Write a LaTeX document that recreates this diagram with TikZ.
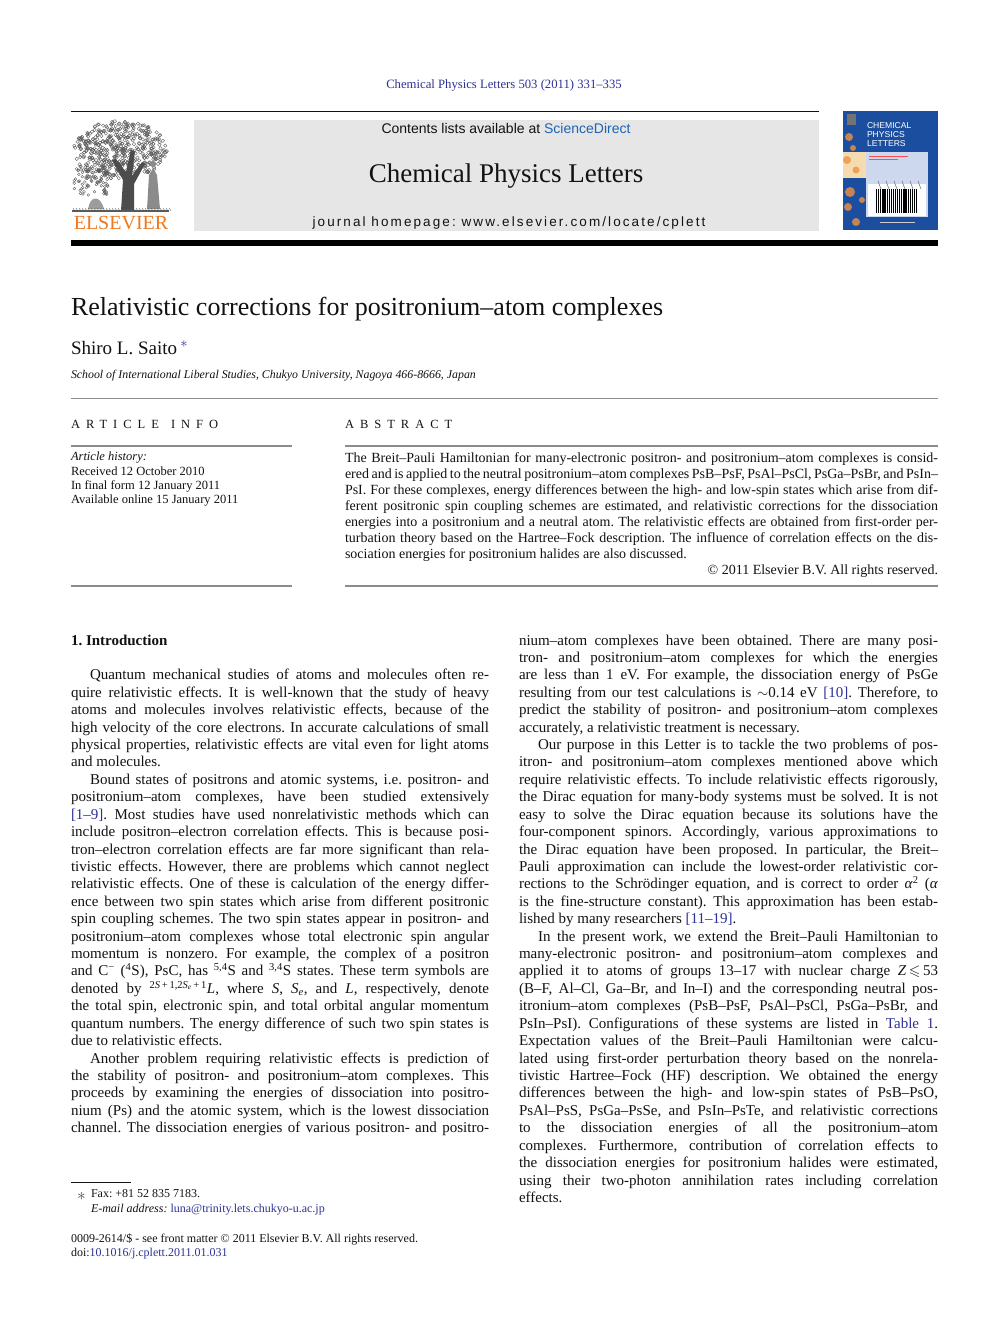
\documentclass[tikz,border=0pt]{standalone}
\usepackage{fontspec}
\usepackage{amssymb}
\setmainfont{Liberation Serif}
\newfontfamily\sansf{Liberation Sans}
\newfontfamily\hpfont[LetterSpace=15.5]{Liberation Sans}
\newfontfamily\capsp[LetterSpace=48]{Liberation Serif}
\definecolor{linkblue}{RGB}{45,50,150}
\definecolor{sdblue}{RGB}{30,100,180}
\definecolor{elsorange}{RGB}{240,120,30}
\definecolor{boxgray}{RGB}{230,230,230}
\definecolor{rulegray}{RGB}{140,140,140}
\definecolor{coverblue}{RGB}{28,78,160}
\definecolor{coverbeige}{RGB}{245,220,175}
\definecolor{coverpanel}{RGB}{205,215,238}
\definecolor{treegray}{RGB}{90,90,90}
\definecolor{inkblack}{RGB}{18,18,18}
\tikzset{
  txt/.style={inner sep=0pt, outer sep=0pt, anchor=base west, text=inkblack},
  body/.style={txt, font=\fontsize{15}{17}\selectfont},
  abs/.style={txt, font=\fontsize{14}{16}\selectfont},
  info/.style={txt, font=\fontsize{12.5}{14}\selectfont},
  small/.style={txt, font=\fontsize{12}{14}\selectfont},
  rule/.style={draw=rulegray, line width=1pt},
}
% justified body line: name, x, row, width, text
\newcommand\JL[5]{\node[body] (#1) at (#2,{645+17.42*#3}) {\makebox[#4pt][s]{#5}};}
% last line of a paragraph
\newcommand\PL[4]{\node[body] (#1) at (#2,{645+17.42*#3}) {#4};}
% abstract line
\newcommand\AL[3]{\node[abs] (#1) at (345,{462+16*#2}) {\makebox[593pt][s]{#3}};}
\newcommand\lk[1]{\textcolor{linkblue}{#1}}
\frenchspacing
\begin{document}
\begin{tikzpicture}[x=1pt,y=-1pt]
\useasboundingbox (0,0) rectangle (992,1323);
\fill[white] (0,0) rectangle (992,1323);

% ---------- header ----------
\node[txt, anchor=base, text=linkblue, font=\fontsize{12.7}{15}\selectfont] (jref) at (504,88) {Chemical Physics Letters 503 (2011) 331–335};
\draw[draw=inkblack, line width=0.9pt] (71,111) -- (819,111);
\fill[boxgray] (194,120) rectangle (819,231);
\node[txt, anchor=base, font=\sansf\fontsize{14}{16}\selectfont] (contents) at (506,133) {Contents lists available at \textcolor{sdblue}{ScienceDirect}};
\node[txt, anchor=base, font=\fontsize{27}{30}\selectfont] (jname) at (506,182) {Chemical Physics Letters};
\node[txt, anchor=base, font=\hpfont\fontsize{13.5}{15}\selectfont] (homepage) at (509,226) {journal homepage: www.elsevier.com/locate/cplett};

% ---------- Elsevier logo ----------
\begin{scope}
  \pgfmathsetseed{11}
  \foreach \i in {1,...,520}{
    \pgfmathsetmacro\ang{rnd*360}
    \pgfmathsetmacro\rr{sqrt(rnd)}
    \pgfmathsetmacro\cx{120+47*\rr*cos(\ang)}
    \pgfmathsetmacro\cy{150+29*\rr*sin(\ang)}
    \draw[treegray, line width=0.35pt] (\cx,\cy) circle[radius=1.7pt];
  }
  \foreach \i in {1,...,90}{
    \pgfmathsetmacro\cx{74+34*rnd}
    \pgfmathsetmacro\cy{165+30*rnd}
    \draw[treegray, line width=0.35pt] (\cx,\cy) circle[radius=1.4pt];
  }
  \fill[treegray!85!black] (121,211) -- (123,180) -- (112,160) -- (116,159) -- (126,172) -- (131,150) -- (135,151) -- (132,176) -- (142,162) -- (145,164) -- (134,184) -- (134,211) -- cycle;
  \fill[treegray!70] (147,209) -- (149,175) -- (153,168) -- (157,175) -- (160,209) -- cycle;
  \fill[treegray!70] (153,164) circle[radius=3.2pt];
  \fill[treegray!60] (88,209) .. controls (90,196) and (100,194) .. (104,209) -- cycle;
  \draw[treegray, line width=1.2pt] (72,211) -- (169,211);
  \foreach \k in {0,...,32}{\draw[treegray, line width=0.4pt] ({73+3*\k},208) -- ({75+3*\k},211);}
\end{scope}
\node[txt, anchor=base, text=elsorange, font=\fontsize{20}{22}\selectfont] (elsevier) at (121,229) {ELSEVIER};

% ---------- cover ----------
\fill[coverblue] (843,111) rectangle (938,230);
\fill[coverbeige] (843,152) rectangle (866,178);
\fill[coverpanel] (866,152) rectangle (928,217);
\fill[white!92!coverpanel] (868,184) rectangle (926,216);
\foreach \p/\r in {{849,137}/4, {853,148}/3, {847,160}/4, {856,170}/3.5, {850,192}/5, {848,207}/4, {856,222}/4, {862,200}/3}{
  \fill[elsorange!75!coverbeige, opacity=0.8] (\p) circle[radius=\r pt];
}
\foreach \k in {0,...,19}{\fill[black] ({876+2.1*\k},189) rectangle ++(1.2,24);}
\foreach \k in {0,...,5}{\draw[black!60, line width=0.5pt] ({878+8*\k},181) -- ({881+8*\k},189);}
\fill[black!55] (847,114) rectangle (856,125);
\node[txt, anchor=north west, text=white, align=left, font=\sansf\fontsize{8.6}{9.4}\selectfont] (ctitle) at (867,122) {CHEMICAL\\PHYSICS\\LETTERS};
\draw[red!70, line width=0.7pt] (869,156) -- (908,156);
\draw[red!70, line width=0.7pt] (869,159) -- (898,159);
\draw[white!80!black, line width=0.5pt] (880,222) -- (915,222);

\fill[black] (71,240) rectangle (938,246);

% ---------- title block ----------
\node[txt, font=\fontsize{26}{30}\selectfont] (title) at (71,315) {Relativistic corrections for positronium–atom complexes};
\node[txt, font=\fontsize{19}{22}\selectfont] (author) at (71,354) {Shiro L. Saito\,\textsuperscript{\textcolor{linkblue}{$\ast$}}};
\node[small, font=\itshape\fontsize{11.85}{14}\selectfont] (affil) at (71,378) {School of International Liberal Studies, Chukyo University, Nagoya 466-8666, Japan};
\draw[rule, line width=0.8pt] (71,398) -- (938,398);

\node[txt, font=\capsp\fontsize{12.5}{14}\selectfont] (ainfo) at (71,428) {ARTICLE\hspace{12pt}INFO};
\node[txt, font=\capsp\fontsize{12.5}{14}\selectfont] (abshead) at (345,428) {ABSTRACT};
\draw[rule, line width=1.3pt] (71,446) -- (292,446);
\draw[rule, line width=1.3pt] (345,446) -- (938,446);

\node[info, font=\itshape\fontsize{12.5}{14}\selectfont] (hist) at (71,460) {Article history:};
\node[info] (recv) at (71,475) {Received 12 October 2010};
\node[info] (final) at (71,489) {In final form 12 January 2011};
\node[info] (online) at (71,503) {Available online 15 January 2011};

\AL{a1}{0}{The Breit–Pauli Hamiltonian for many-electronic positron- and positronium–atom complexes is consid-}
\AL{a2}{1}{ered and is applied to the neutral positronium–atom complexes PsB–PsF, PsAl–PsCl, PsGa–PsBr, and PsIn–}
\AL{a3}{2}{PsI. For these complexes, energy differences between the high- and low-spin states which arise from dif-}
\AL{a4}{3}{ferent positronic spin coupling schemes are estimated, and relativistic corrections for the dissociation}
\AL{a5}{4}{energies into a positronium and a neutral atom. The relativistic effects are obtained from first-order per-}
\AL{a6}{5}{turbation theory based on the Hartree–Fock description. The influence of correlation effects on the dis-}
\node[abs] (a7) at (345,{462+16*6}) {sociation energies for positronium halides are also discussed.};
\node[abs, anchor=base east] (copy) at (938,{462+16*7}) {© 2011 Elsevier B.V. All rights reserved.};

\draw[rule, line width=1.3pt] (71,586) -- (292,586);
\draw[rule, line width=1.3pt] (345,586) -- (938,586);

% ---------- left column ----------
\node[body, font=\bfseries\fontsize{15}{17}\selectfont] (sec1) at (71,645) {1. Introduction};
\JL{l02}{90}{2}{399}{Quantum mechanical studies of atoms and molecules often re-}
\JL{l03}{71}{3}{418}{quire relativistic effects. It is well-known that the study of heavy}
\JL{l04}{71}{4}{418}{atoms and molecules involves relativistic effects, because of the}
\JL{l05}{71}{5}{418}{high velocity of the core electrons. In accurate calculations of small}
\JL{l06}{71}{6}{418}{physical properties, relativistic effects are vital even for light atoms}
\PL{l07}{71}{7}{and molecules.}
\JL{l08}{90}{8}{399}{Bound states of positrons and atomic systems, i.e. positron- and}
\JL{l09}{71}{9}{418}{positronium–atom complexes, have been studied extensively}
\JL{l10}{71}{10}{418}{\lk{[1–9]}. Most studies have used nonrelativistic methods which can}
\JL{l11}{71}{11}{418}{include positron–electron correlation effects. This is because posi-}
\JL{l12}{71}{12}{418}{tron–electron correlation effects are far more significant than rela-}
\JL{l13}{71}{13}{418}{tivistic effects. However, there are problems which cannot neglect}
\JL{l14}{71}{14}{418}{relativistic effects. One of these is calculation of the energy differ-}
\JL{l15}{71}{15}{418}{ence between two spin states which arise from different positronic}
\JL{l16}{71}{16}{418}{spin coupling schemes. The two spin states appear in positron- and}
\JL{l17}{71}{17}{418}{positronium–atom complexes whose total electronic spin angular}
\JL{l18}{71}{18}{418}{momentum is nonzero. For example, the complex of a positron}
\JL{l19}{71}{19}{418}{and C\textsuperscript{−} (\textsuperscript{4}S), PsC, has \textsuperscript{5,4}S and \textsuperscript{3,4}S states. These term symbols are}
\JL{l20}{71}{20}{418}{denoted by \textsuperscript{2\textit{S}\,+\,1,2\textit{S}\textsubscript{\textit{e}}\,+\,1}\textit{L}, where \textit{S}, \textit{S}\textsubscript{\textit{e}}, and \textit{L}, respectively, denote}
\JL{l21}{71}{21}{418}{the total spin, electronic spin, and total orbital angular momentum}
\JL{l22}{71}{22}{418}{quantum numbers. The energy difference of such two spin states is}
\PL{l23}{71}{23}{due to relativistic effects.}
\JL{l24}{90}{24}{399}{Another problem requiring relativistic effects is prediction of}
\JL{l25}{71}{25}{418}{the stability of positron- and positronium–atom complexes. This}
\JL{l26}{71}{26}{418}{proceeds by examining the energies of dissociation into positro-}
\JL{l27}{71}{27}{418}{nium (Ps) and the atomic system, which is the lowest dissociation}
\JL{l28}{71}{28}{418}{channel. The dissociation energies of various positron- and positro-}

% ---------- right column ----------
\JL{r00}{519}{0}{419}{nium–atom complexes have been obtained. There are many posi-}
\JL{r01}{519}{1}{419}{tron- and positronium–atom complexes for which the energies}
\JL{r02}{519}{2}{419}{are less than 1 eV. For example, the dissociation energy of PsGe}
\JL{r03}{519}{3}{419}{resulting from our test calculations is $\sim$0.14 eV \lk{[10]}. Therefore, to}
\JL{r04}{519}{4}{419}{predict the stability of positron- and positronium–atom complexes}
\PL{r05}{519}{5}{accurately, a relativistic treatment is necessary.}
\JL{r06}{538}{6}{400}{Our purpose in this Letter is to tackle the two problems of pos-}
\JL{r07}{519}{7}{419}{itron- and positronium–atom complexes mentioned above which}
\JL{r08}{519}{8}{419}{require relativistic effects. To include relativistic effects rigorously,}
\JL{r09}{519}{9}{419}{the Dirac equation for many-body systems must be solved. It is not}
\JL{r10}{519}{10}{419}{easy to solve the Dirac equation because its solutions have the}
\JL{r11}{519}{11}{419}{four-component spinors. Accordingly, various approximations to}
\JL{r12}{519}{12}{419}{the Dirac equation have been proposed. In particular, the Breit–}
\JL{r13}{519}{13}{419}{Pauli approximation can include the lowest-order relativistic cor-}
\JL{r14}{519}{14}{419}{rections to the Schrödinger equation, and is correct to order \textit{α}\textsuperscript{2} (\textit{α}}
\JL{r15}{519}{15}{419}{is the fine-structure constant). This approximation has been estab-}
\PL{r16}{519}{16}{lished by many researchers \lk{[11–19]}.}
\JL{r17}{538}{17}{400}{In the present work, we extend the Breit–Pauli Hamiltonian to}
\JL{r18}{519}{18}{419}{many-electronic positron- and positronium–atom complexes and}
\JL{r19}{519}{19}{419}{applied it to atoms of groups 13–17 with nuclear charge \textit{Z}\,$\leqslant$\,53}
\JL{r20}{519}{20}{419}{(B–F, Al–Cl, Ga–Br, and In–I) and the corresponding neutral pos-}
\JL{r21}{519}{21}{419}{itronium–atom complexes (PsB–PsF, PsAl–PsCl, PsGa–PsBr, and}
\JL{r22}{519}{22}{419}{PsIn–PsI). Configurations of these systems are listed in \lk{Table 1}.}
\JL{r23}{519}{23}{419}{Expectation values of the Breit–Pauli Hamiltonian were calcu-}
\JL{r24}{519}{24}{419}{lated using first-order perturbation theory based on the nonrela-}
\JL{r25}{519}{25}{419}{tivistic Hartree–Fock (HF) description. We obtained the energy}
\JL{r26}{519}{26}{419}{differences between the high- and low-spin states of PsB–PsO,}
\JL{r27}{519}{27}{419}{PsAl–PsS, PsGa–PsSe, and PsIn–PsTe, and relativistic corrections}
\JL{r28}{519}{28}{419}{to the dissociation energies of all the positronium–atom}
\JL{r29}{519}{29}{419}{complexes. Furthermore, contribution of correlation effects to}
\JL{r30}{519}{30}{419}{the dissociation energies for positronium halides were estimated,}
\JL{r31}{519}{31}{419}{using their two-photon annihilation rates including correlation}
\PL{r32}{519}{32}{effects.}

% ---------- footnotes ----------
\draw[inkblack, line width=0.6pt] (71,1182) -- (131,1182);
\node[txt, text=black!70, font=\fontsize{17}{18}\selectfont] (fstar) at (77,1200) {$\ast$};
\node[small] (fax) at (91,1197) {Fax: +81 52 835 7183.};
\node[small] (email) at (91,1212) {\textit{E-mail address:} \lk{luna@trinity.lets.chukyo-u.ac.jp}};
\node[small] (front) at (71,1242) {0009-2614/\$ - see front matter © 2011 Elsevier B.V. All rights reserved.};
\node[small] (doi) at (71,1256) {doi:\lk{10.1016/j.cplett.2011.01.031}};
\end{tikzpicture}
\end{document}
